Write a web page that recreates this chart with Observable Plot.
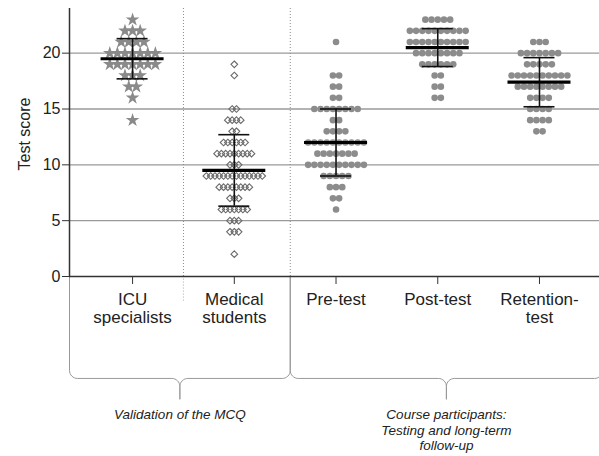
<!DOCTYPE html>
<html><head><meta charset="utf-8">
<script src="https://cdn.jsdelivr.net/npm/d3@7"></script>
<script src="https://cdn.jsdelivr.net/npm/@observablehq/plot@0.6"></script>
<style>body{margin:0;background:#fff;}</style>
</head><body><div id="chart"></div>
<script>
// ---- data ----
const categories = ["ICU specialists", "Medical students", "Pre-test", "Post-test", "Retention-test"];
const tickLabels = ["ICU\nspecialists", "Medical\nstudents", "Pre-test", "Post-test", "Retention-\ntest"];
const yTicks = [0, 5, 10, 15, 20];

const icuScores  = [23, 22, 21, 20, 19, 18, 17, 16, 14];
const icuCounts  = [1, 3, 4, 7, 7, 3, 2, 1, 1];
const medScores  = [19, 18, 15, 14, 13, 12, 11, 10, 9, 8, 7, 6, 5, 4, 2];
const medCounts  = [1, 1, 2, 4, 2, 6, 9, 3, 14, 8, 3, 7, 3, 3, 1];
const preScores  = [21, 18, 17, 16, 15, 14, 13, 12, 11, 10, 9, 8, 7, 6];
const preCounts  = [1, 2, 2, 2, 8, 2, 4, 10, 7, 10, 5, 3, 2, 1];
const postScores = [23, 22, 21, 20, 19, 18, 17, 16];
const postCounts = [5, 10, 10, 8, 6, 2, 2, 2];
const retScores  = [21, 20, 19, 18, 17, 16, 15, 14, 13];
const retCounts  = [3, 7, 5, 10, 8, 4, 4, 4, 2];

const means = [19.5, 9.5, 12.0, 20.5, 17.4];
const sds   = [1.8, 3.2, 3.0, 1.7, 2.2];

const groupSeparators = [1.5, 2.55];
const braceSpans  = [[0.38, 2.55], [2.55, 5.62]];
const braceLabels = ["Validation of the MCQ", "Course participants:\nTesting and long-term\nfollow-up"];

// ---- layout ----
const W = 599, H = 456, mL = 69, mR = 0, mT = 8, mB = 180;
const xDomain = [0.38, 5.59], yDomain = [0, 24];
const pxX = (W - mL - mR) / (xDomain[1] - xDomain[0]);
const pxY = (H - mT - mB) / (yDomain[1] - yDomain[0]);

function swarm(g, scores, counts, spacingPx) {
  const out = [];
  scores.forEach((s, k) => {
    const n = counts[k];
    for (let i = 0; i < n; i++) out.push({g, x: g + (i - (n - 1) / 2) * spacingPx / pxX, y: s});
  });
  return out;
}
const icu  = swarm(1, icuScores, icuCounts, 7.6);
const med  = swarm(2, medScores, medCounts, 4.3);
const circ = [
  ...swarm(3, preScores, preCounts, 6.2),
  ...swarm(4, postScores, postCounts, 6.2),
  ...swarm(5, retScores, retCounts, 6.2)
];

const stats = categories.map((c, i) => ({g: i + 1, m: means[i], sd: sds[i]}));
const halfMean = 31.5 / pxX, halfCap = 15.5 / pxX;

// brace geometry (downward curly brace below the axis)
const yArm = 0, yLevel = -9.13, yTip = -11.0;
const rxB = 8 / pxX, ryB = 8 / pxY;
function arc(cx, cy, a0, a1) {
  const pts = [];
  for (let k = 0; k <= 8; k++) {
    const a = a0 + (a1 - a0) * k / 8;
    pts.push({x: cx + rxB * Math.cos(a), y: cy + ryB * Math.sin(a)});
  }
  return pts;
}
function brace([x0, x1], id) {
  const xm = (x0 + x1) / 2;
  const pts = [{x: x0, y: yArm}];
  pts.push(...arc(x0 + rxB, yLevel + ryB, Math.PI, 1.5 * Math.PI));
  pts.push(...arc(xm - rxB, yLevel - ryB, 0.5 * Math.PI, 0));
  pts.push({x: xm, y: yTip});
  pts.push({x: xm, y: yLevel - ryB});
  pts.push(...arc(xm + rxB, yLevel - ryB, Math.PI, 0.5 * Math.PI));
  pts.push(...arc(x1 - rxB, yLevel + ryB, 1.5 * Math.PI, 2 * Math.PI));
  pts.push({x: x1, y: yArm});
  return pts.map(p => ({...p, id}));
}
const braces = braceSpans.flatMap((s, i) => brace(s, i));
const braceText = braceSpans.map((s, i) => ({x: (s[0] + s[1]) / 2, label: braceLabels[i]}));

const chart = Plot.plot({
  width: W, height: H,
  marginLeft: mL, marginRight: mR, marginTop: mT, marginBottom: mB,
  x: {domain: xDomain},
  y: {domain: yDomain},
  style: {fontFamily: "Liberation Sans, Arial, sans-serif", fontSize: "16px", color: "#222", background: "#fff"},
  marks: [
    Plot.ruleY([5, 10, 15, 20], {stroke: "#9a9a9a", strokeWidth: 1.3}),
    Plot.ruleX(groupSeparators, {y1: 0, y2: 24, stroke: "#8a8a8a", strokeDasharray: "1,2", strokeWidth: 1}),
    Plot.ruleX([groupSeparators[0]], {y1: -2.2, y2: 0, stroke: "#aaa", strokeDasharray: "1,2", strokeWidth: 1}),
    Plot.line(braces, {x: "x", y: "y", z: "id", stroke: "#999", strokeWidth: 1}),
    Plot.dot(icu, {x: "x", y: "y", symbol: "star", r: 4.3, fill: "#8a8a8a", stroke: "none"}),
    Plot.dot(med, {x: "x", y: "y", symbol: "diamond2", r: 3, fill: "none", stroke: "#6a6a6a", strokeWidth: 1.1}),
    Plot.dot(circ, {x: "x", y: "y", r: 3.3, fill: "#8c8c8c", stroke: "none"}),
    Plot.ruleX(stats, {x: "g", y1: d => d.m - d.sd, y2: d => d.m + d.sd, stroke: "#111", strokeWidth: 1.6}),
    Plot.ruleY(stats, {y: d => d.m + d.sd, x1: d => d.g - halfCap, x2: d => d.g + halfCap, stroke: "#111", strokeWidth: 1.6}),
    Plot.ruleY(stats, {y: d => d.m - d.sd, x1: d => d.g - halfCap, x2: d => d.g + halfCap, stroke: "#111", strokeWidth: 1.6}),
    Plot.ruleY(stats, {y: "m", x1: d => d.g - halfMean, x2: d => d.g + halfMean, stroke: "#000", strokeWidth: 3.2}),
    Plot.ruleY([0], {stroke: "#333", strokeWidth: 1.5}),
    Plot.ruleX([xDomain[0]], {y1: 0, y2: 24, stroke: "#333", strokeWidth: 1.5}),
    Plot.axisY({ticks: yTicks, tickSize: 7, tickPadding: 2, fontSize: 16, label: null, stroke: "#333"}),
    Plot.axisX({ticks: [1, 2, 3, 4, 5], tickFormat: d => tickLabels[d - 1], tickSize: 8, tickPadding: 7,
      fontSize: 17, lineHeight: 1.09, label: null, stroke: "#333"}),
    Plot.text(["Test score"], {frameAnchor: "left", y: 9.5, dx: -45, rotate: -90, fontSize: 16, text: d => d, fill: "#222"}),
    Plot.text(braceText, {x: "x", y: -11.8, text: "label", lineAnchor: "top", fontSize: 13.5,
      fontStyle: "italic", lineHeight: 1.15, fill: "#222"})
  ]
});
document.getElementById("chart").appendChild(chart);
</script>
</body></html>
